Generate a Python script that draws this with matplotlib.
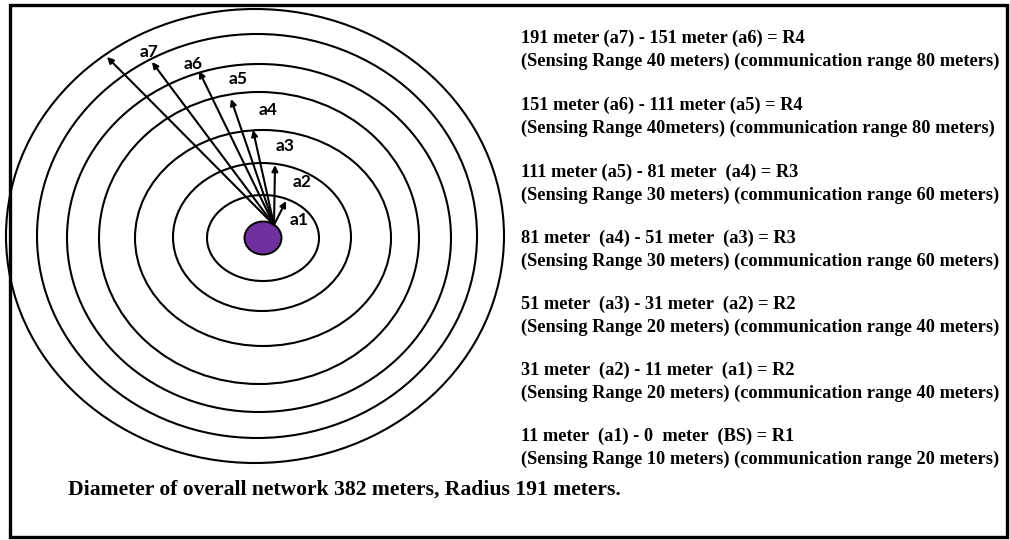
# Concentric network rings with annotation text

import matplotlib
matplotlib.use('Agg')
import matplotlib.pyplot as plt
from matplotlib.patches import Ellipse, Rectangle

# ring half-widths / half-heights (pixels of the 1010x540 canvas)
ring_names = ['a1', 'a2', 'a3', 'a4', 'a5', 'a6', 'a7']
ring_half_w = [56, 89, 128, 160, 192, 220, 249]
ring_half_h = [43, 74, 108, 146, 174, 202, 227]
ring_cx = [263, 262, 263, 259, 259, 257, 255]
ring_cy = [238, 237, 238, 238, 238, 236, 236]

# arrow tips and label positions
arrow_tip_x = [286, 275, 253, 231, 199, 152, 107]
arrow_tip_y = [201, 165, 130, 99, 71, 62, 57]
label_x = [290, 293, 276, 259, 229, 184, 140]
label_y = [220, 182, 146, 110, 79, 64, 52]

zone_lines = [
    ('191 meter (a7) - 151 meter (a6) = R4',
     '(Sensing Range 40 meters) (communication range 80 meters)'),
    ('151 meter (a6) - 111 meter (a5) = R4',
     '(Sensing Range 40meters) (communication range 80 meters)'),
    ('111 meter (a5) - 81 meter  (a4) = R3',
     '(Sensing Range 30 meters) (communication range 60 meters)'),
    ('81 meter  (a4) - 51 meter  (a3) = R3',
     '(Sensing Range 30 meters) (communication range 60 meters)'),
    ('51 meter  (a3) - 31 meter  (a2) = R2',
     '(Sensing Range 20 meters) (communication range 40 meters)'),
    ('31 meter  (a2) - 11 meter  (a1) = R2',
     '(Sensing Range 20 meters) (communication range 40 meters)'),
    ('11 meter  (a1) - 0  meter  (BS) = R1',
     '(Sensing Range 10 meters) (communication range 20 meters)'),
]
zone_y = [38, 105, 172, 238, 304, 370, 436]
footer = 'Diameter of overall network 382 meters, Radius 191 meters.'

fig = plt.figure(figsize=(10.1, 5.4), dpi=100)
ax = fig.add_axes([0, 0, 1, 1])
ax.set_xlim(0, 1010)
ax.set_ylim(540, 0)
ax.axis('off')

# outer frame
ax.add_patch(Rectangle((10, 4.5), 997, 532, fill=False, lw=2.4, ec='black'))

# rings
for cx, cy, w, h in zip(ring_cx, ring_cy, ring_half_w, ring_half_h):
    ax.add_patch(Ellipse((cx, cy), 2 * w, 2 * h, fill=False, lw=1.5, ec='black'))

# base station
ax.add_patch(Ellipse((263, 238), 37, 33, fc='#7030A0', ec='black', lw=1.4, zorder=3))

# radius arrows
origin = (274, 225)
for tx, ty, lx, ly, name in zip(arrow_tip_x, arrow_tip_y, label_x, label_y, ring_names):
    ax.annotate('', xy=(tx, ty), xytext=origin,
                arrowprops=dict(arrowstyle='-|>', color='black', lw=1.5,
                                mutation_scale=9, shrinkA=0, shrinkB=0))
    ax.text(lx, ly, name, fontsize=12.5, fontweight='bold', family='Lato',
            ha='left', va='center')

# zone descriptions
for (l1, l2), y in zip(zone_lines, zone_y):
    ax.text(521, y, l1, fontsize=13.2, fontweight='bold', family='Liberation Serif',
            ha='left', va='center')
    ax.text(521, y + 23, l2, fontsize=13.2, fontweight='bold', family='Liberation Serif',
            ha='left', va='center')

ax.text(68, 490, footer, fontsize=15.6, fontweight='bold', family='Liberation Serif',
        ha='left', va='center')

plt.savefig('out.png', dpi=100)
